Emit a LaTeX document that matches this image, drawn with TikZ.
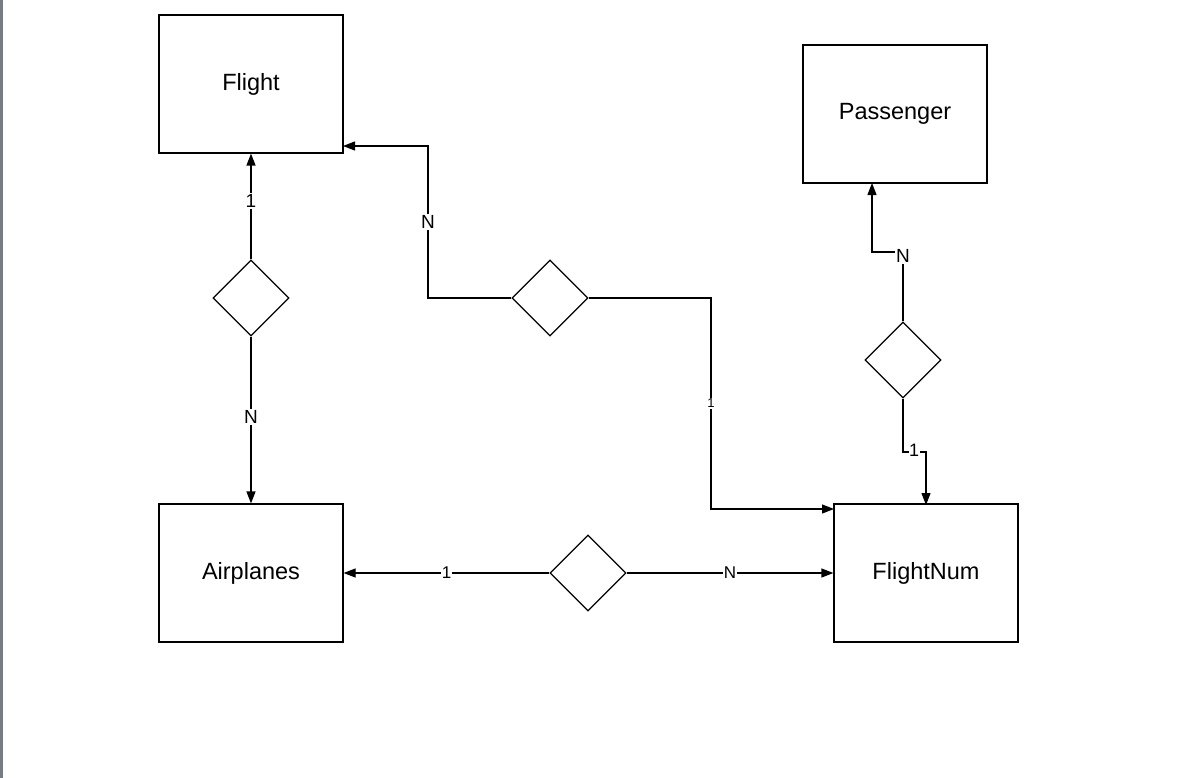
\documentclass[tikz,border=0pt]{standalone}
\usepackage{fontspec}
\setmainfont{Liberation Sans}
\usetikzlibrary{shapes.geometric,arrows.meta}
\begin{document}
\begin{tikzpicture}[x=1pt,y=-1pt,
  entity/.style={draw,line width=1.2pt,minimum width=184pt,minimum height=138pt,inner sep=0pt,font=\fontsize{23.5}{25}\selectfont},
  rel/.style={draw,diamond,line width=1.2pt,minimum width=76pt,minimum height=76pt,inner sep=0pt,aspect=1},
  conn/.style={line width=1.2pt,-{Triangle[length=12pt,width=9pt]}},
  lab/.style={fill=white,inner sep=1.5pt,font=\fontsize{19}{20}\selectfont},
  slab/.style={fill=white,inner sep=1pt,font=\fontsize{13}{14}\selectfont}]
\useasboundingbox (0,0) rectangle (1198,778);
\fill[white] (0,0) rectangle (1198,778);
\draw[line width=2.5pt,color={rgb,255:red,120;green,124;blue,134}] (1.5,0) -- (1.5,778);
% entities
\node[entity] (flight) at (251,84) {Flight};
\node[entity] (pass) at (895,114) {Passenger};
\node[entity] (air) at (251,573) {Airplanes};
\node[entity] (fnum) at (926,573) {FlightNum};
% relationships
\node[rel] (d1) at (251,298) {};
\node[rel] (d2) at (550,298) {};
\node[rel] (d3) at (903,360) {};
\node[rel] (d4) at (588,573) {};
% coordinates
\coordinate (c2a) at (428,298);
\coordinate (c2b) at (428,146);
\coordinate (f2) at (343,146);
\coordinate (c2c) at (711,298);
\coordinate (c2d) at (711,509);
\coordinate (n2) at (834,509);
\coordinate (c3a) at (903,252);
\coordinate (c3b) at (872,252);
\coordinate (p3) at (872,183);
\coordinate (c3c) at (903,452);
\coordinate (c3d) at (926,452);
\coordinate (n3) at (926,505);
% connectors
\draw[conn] (d1.north) -- node[lab,pos=0.55]{1} (flight.south);
\draw[conn] (d1.south) -- node[lab,pos=0.48]{N} (air.north);
\draw[conn] (d2.west) -- (c2a) -- node[lab,pos=0.5]{N} (c2b) -- (f2);
\draw[conn] (d2.east) -- (c2c) -- node[slab,pos=0.5]{1} (c2d) -- (n2);
\draw[conn] (d3.north) -- (c3a) -- (c3b) -- (p3);
\node[lab,inner sep=1pt] (lN3) at (903,256) {N};
\draw[conn] (d3.south) -- (c3c) -- (c3d) -- (n3);
\node[lab,inner sep=0.5pt,font=\fontsize{18}{19}\selectfont] (l13) at (914,450) {1};
\draw[conn] (d4.west) -- node[lab,inner sep=0.5pt,font=\fontsize{17}{18}\selectfont]{1} (air.east);
\draw[conn] (d4.east) -- node[lab,inner sep=0.5pt,font=\fontsize{17}{18}\selectfont]{N} (fnum.west);
\end{tikzpicture}
\end{document}
